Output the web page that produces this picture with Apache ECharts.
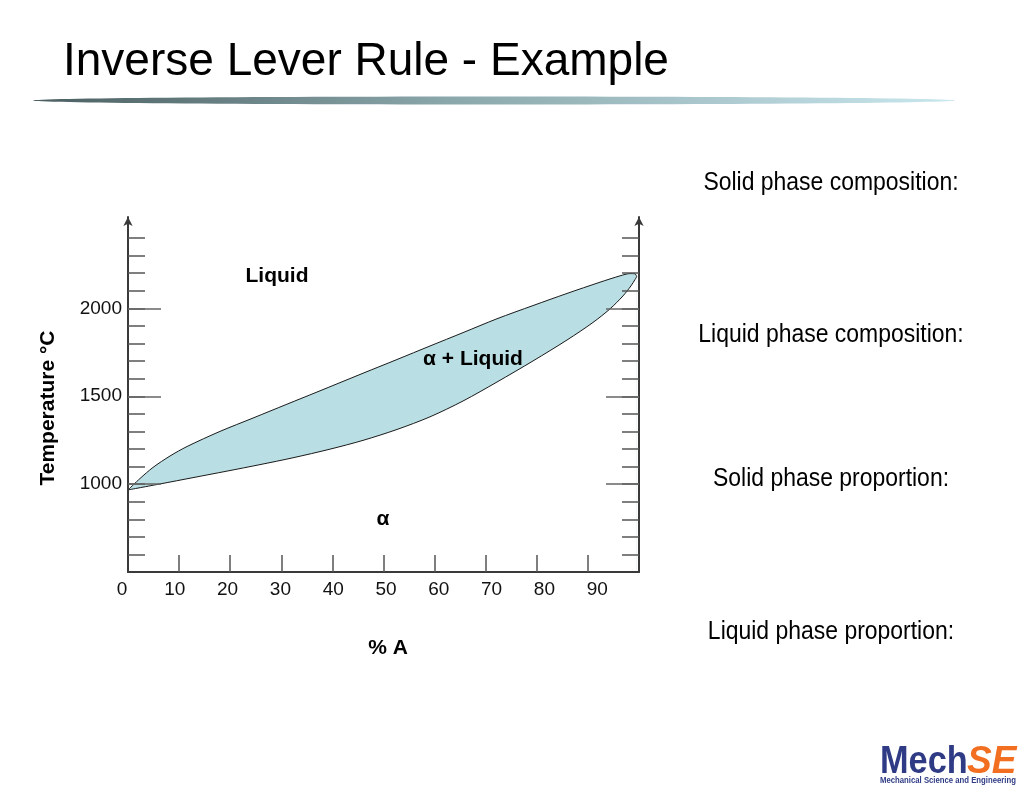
<!DOCTYPE html>
<html><head><meta charset="utf-8">
<script src="https://cdn.jsdelivr.net/npm/echarts@6/dist/echarts.min.js"></script>
<style>html,body{margin:0;padding:0;background:#fff}#c{width:1024px;height:791px}</style>
</head><body><div id="c"></div>
<script>
// ---------------- data ----------------
const liquidusX = [0, 2.35, 4.89, 8.22, 11.55, 18.0, 24.46, 31.12, 36.99, 45.99, 52.64, 59.10, 65.56, 72.21, 79.26, 85.91, 92.37, 96.28, 98.24, 99.22, 99.55];
const liquidusT = [967, 1032, 1095, 1160, 1214, 1300, 1376, 1455, 1524, 1631, 1709, 1786, 1862, 1941, 2016, 2085, 2149, 2185, 2198, 2197, 2180];
const solidusX  = [0, 6.26, 12.72, 19.37, 25.83, 32.29, 39.53, 45.99, 52.64, 59.10, 65.56, 72.21, 79.26, 85.91, 91.00, 94.32, 96.87, 98.43, 99.22, 99.55];
const solidusT  = [967, 1001, 1037, 1074, 1111, 1150, 1199, 1249, 1311, 1383, 1473, 1581, 1701, 1820, 1920, 1997, 2071, 2128, 2164, 2180];
const xTickValues  = [10, 20, 30, 40, 50, 60, 70, 80, 90];
const xLabelValues = [0, 10, 20, 30, 40, 50, 60, 70, 80, 90];
const yMinorTicks  = [600, 700, 800, 900, 1000, 1100, 1200, 1300, 1400, 1500, 1600, 1700, 1800, 1900, 2000, 2100, 2200, 2300, 2400];
const yMajorTicks  = [1000, 1500, 2000];
const titleText = 'Inverse Lever Rule - Example';
const xAxisName = '% A';
const yAxisName = 'Temperature °C';
const regionNames = ['Liquid', 'α + Liquid', 'α'];
const sideLabels = ['Solid phase composition:', 'Liquid phase composition:', 'Solid phase proportion:', 'Liquid phase proportion:'];

// ---------------- helpers ----------------
const SANS = 'Liberation Sans, Arial, Helvetica, sans-serif';
const tickFont = SANS;
const tickSize = 19;

const liquidus = liquidusX.map((x, i) => [x, liquidusT[i]]);
const solidus = solidusX.map((x, i) => [x, solidusT[i]]);

const Y_MIN = 500, Y_MAX = 2520;
const axisColor = '#3a3a3a', tickColor = '#555';
const fillColor = '#b9dee3';

const chart = echarts.init(document.getElementById('c'), null, {renderer: 'canvas'});

const yBase = {
  type: 'value', gridIndex: 0, min: Y_MIN, max: Y_MAX, interval: 100,
  splitLine: {show: false}, axisLabel: {show: false}
};

const option = {
  backgroundColor: '#ffffff',
  animation: false,
  grid: [
    {left: 128, top: 217, width: 511, height: 355},
    {left: 122, top: 217, width: 528, height: 355}
  ],
  xAxis: [
    {
      type: 'value', gridIndex: 0, min: 0, max: 100, interval: 10,
      axisLine: {show: true, lineStyle: {color: axisColor, width: 2}},
      axisTick: {show: true, inside: true, length: 17, customValues: xTickValues, lineStyle: {color: tickColor, width: 1.5}},
      axisLabel: {show: false}, splitLine: {show: false}, z: 3
    },
    {
      type: 'value', gridIndex: 1, min: 0, max: 100, interval: 10,
      axisLine: {show: false}, axisTick: {show: false}, splitLine: {show: false},
      axisLabel: {show: true, customValues: xLabelValues, margin: 8, color: '#111', fontFamily: tickFont, fontSize: tickSize}
    }
  ],
  yAxis: [
    Object.assign({}, yBase, {
      position: 'left',
      axisLine: {show: true, symbol: ['none', 'arrow'], symbolSize: [7, 9], lineStyle: {color: axisColor, width: 2}},
      axisTick: {show: true, inside: true, length: 17, customValues: yMinorTicks, lineStyle: {color: tickColor, width: 1.5}},
      z: 3
    }),
    Object.assign({}, yBase, {
      position: 'left',
      axisLine: {show: false},
      axisTick: {show: true, inside: true, length: 33, customValues: yMajorTicks, lineStyle: {color: '#666', width: 1.5}},
      axisLabel: {show: true, customValues: yMajorTicks, margin: 6, color: '#111', fontFamily: tickFont, fontSize: tickSize,
        formatter: v => String(v)},
      z: 3
    }),
    Object.assign({}, yBase, {
      position: 'right',
      axisLine: {show: true, symbol: ['none', 'arrow'], symbolSize: [7, 9], lineStyle: {color: axisColor, width: 2}},
      axisTick: {show: true, inside: true, length: 17, customValues: yMinorTicks, lineStyle: {color: tickColor, width: 1.5}},
      z: 3
    }),
    Object.assign({}, yBase, {
      position: 'right',
      axisLine: {show: false},
      axisTick: {show: true, inside: true, length: 33, customValues: yMajorTicks, lineStyle: {color: '#666', width: 1.5}},
      z: 3
    }),
    {type: 'value', gridIndex: 1, min: Y_MIN, max: Y_MAX, show: false}
  ],
  series: [
    {
      name: 'Liquidus', type: 'line', xAxisIndex: 0, yAxisIndex: 0,
      data: liquidus, smooth: 0.3, symbol: 'none', silent: true, z: 2,
      lineStyle: {color: '#1a1a1a', width: 1},
      areaStyle: {color: fillColor, opacity: 1, origin: 'start'}
    },
    {
      name: 'Solidus', type: 'line', xAxisIndex: 0, yAxisIndex: 0,
      data: solidus, smooth: 0.3, symbol: 'none', silent: true, z: 2,
      lineStyle: {color: '#1a1a1a', width: 1},
      areaStyle: {color: '#ffffff', opacity: 1, origin: 'start'}
    }
  ],
  graphic: [
    {type: 'text', x: 63, y: 62, style: {text: titleText, fontFamily: SANS, fontSize: 46, fill: '#000', align: 'left', verticalAlign: 'middle'}},
    {type: 'ellipse', shape: {cx: 494, cy: 100.5, rx: 461, ry: 4},
      style: {fill: new echarts.graphic.LinearGradient(0, 0, 1, 0, [
        {offset: 0, color: '#4b5f61'}, {offset: 0.45, color: '#8aa7ab'}, {offset: 1, color: '#c9e7ee'}])}},
    {type: 'text', x: 831, y: 183, scaleX: 0.918, style: {text: sideLabels[0], fontFamily: SANS, fontSize: 25, fill: '#000', align: 'center', verticalAlign: 'middle'}},
    {type: 'text', x: 831, y: 335, scaleX: 0.918, style: {text: sideLabels[1], fontFamily: SANS, fontSize: 25, fill: '#000', align: 'center', verticalAlign: 'middle'}},
    {type: 'text', x: 831, y: 479, scaleX: 0.918, style: {text: sideLabels[2], fontFamily: SANS, fontSize: 25, fill: '#000', align: 'center', verticalAlign: 'middle'}},
    {type: 'text', x: 831, y: 632, scaleX: 0.918, style: {text: sideLabels[3], fontFamily: SANS, fontSize: 25, fill: '#000', align: 'center', verticalAlign: 'middle'}},
    {type: 'text', x: 277, y: 276, z: 10, style: {text: regionNames[0], fontFamily: SANS, fontWeight: 'bold', fontSize: 21, fill: '#000', align: 'center', verticalAlign: 'middle'}},
    {type: 'text', x: 473, y: 359, z: 10, style: {text: regionNames[1], fontFamily: SANS, fontWeight: 'bold', fontSize: 21, fill: '#000', align: 'center', verticalAlign: 'middle'}},
    {type: 'text', x: 383, y: 519, z: 10, style: {text: regionNames[2], fontFamily: SANS, fontWeight: 'bold', fontSize: 21, fill: '#000', align: 'center', verticalAlign: 'middle'}},
    {type: 'text', x: 388, y: 648, style: {text: xAxisName, fontFamily: SANS, fontWeight: 'bold', fontSize: 21, fill: '#000', align: 'center', verticalAlign: 'middle'}},
    {type: 'text', x: 48, y: 408, rotation: Math.PI / 2, style: {text: yAxisName, fontFamily: SANS, fontWeight: 'bold', fontSize: 21, fill: '#000', align: 'center', verticalAlign: 'middle'}},
    {type: 'text', x: 880, y: 762, scaleX: 0.88, style: {text: 'Mech', fontFamily: SANS, fontWeight: 'bold', fontSize: 39, fill: '#2f3c85', align: 'left', verticalAlign: 'middle'}},
    {type: 'text', x: 967, y: 762, scaleX: 0.95, style: {text: 'SE', fontFamily: SANS, fontWeight: 'bold', fontStyle: 'italic', fontSize: 39, fill: '#f26f21', align: 'left', verticalAlign: 'middle'}},
    {type: 'text', x: 880, y: 781, scaleX: 0.86, style: {text: 'Mechanical Science and Engineering', fontFamily: SANS, fontWeight: 'bold', fontSize: 9, fill: '#2f3c85', align: 'left', verticalAlign: 'middle'}}
  ]
};
chart.setOption(option);
</script>
</body></html>
